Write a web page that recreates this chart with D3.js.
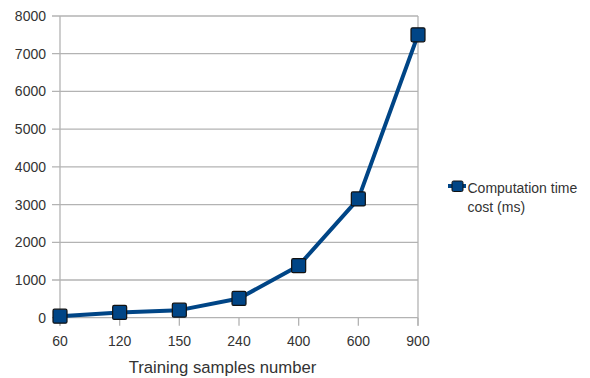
<!DOCTYPE html>
<html><head><meta charset="utf-8">
<script src="https://cdn.jsdelivr.net/npm/d3@7"></script>
<style>body{margin:0;background:#fff}svg{display:block}</style>
</head><body><svg id="c" width="590" height="378"></svg>
<script>
const categories = ["60","120","150","240","400","600","900"];
const values = [40, 140, 200, 510, 1380, 3150, 7500];
const yTicks = [0,1000,2000,3000,4000,5000,6000,7000,8000];
const seriesName = ["Computation time", "cost (ms)"];
const xTitle = "Training samples number";

const svg = d3.select("#c");
const L = 60, R = 418, T = 16, B = 317.7;
const font = "Liberation Sans, Arial, sans-serif";
const txt = "#333";
const x = d3.scalePoint().domain(categories).range([L, R]);
const y = d3.scaleLinear().domain([0, 8000]).range([B, T]);

// grid
svg.append("g").selectAll("line").data(yTicks).join("line")
  .attr("x1", L - 8).attr("x2", R).attr("y1", d => y(d)).attr("y2", d => y(d))
  .attr("stroke", "#b3b3b3").attr("stroke-width", 1.3);
// vertical frame lines
svg.append("line").attr("x1", L).attr("x2", L).attr("y1", T).attr("y2", B + 8).attr("stroke", "#b3b3b3").attr("stroke-width", 1.3);
svg.append("line").attr("x1", R).attr("x2", R).attr("y1", T).attr("y2", B + 8).attr("stroke", "#b3b3b3").attr("stroke-width", 1.3);
// x ticks
svg.append("g").selectAll("line").data(categories).join("line")
  .attr("x1", d => x(d)).attr("x2", d => x(d)).attr("y1", B).attr("y2", B + 8)
  .attr("stroke", "#b3b3b3").attr("stroke-width", 1.3);

// y labels
svg.append("g").selectAll("text").data(yTicks).join("text")
  .attr("x", 46).attr("y", d => y(d) + 5).attr("text-anchor", "end")
  .attr("font-family", font).attr("font-size", 14).attr("fill", txt).text(d => d);
// x labels
svg.append("g").selectAll("text").data(categories).join("text")
  .attr("x", d => x(d)).attr("y", 346).attr("text-anchor", "middle")
  .attr("font-family", font).attr("font-size", 14).attr("fill", txt).text(d => d);
svg.append("text").attr("x", 222.5).attr("y", 373).attr("text-anchor", "middle")
  .attr("font-family", font).attr("font-size", 16.7).attr("fill", txt).text(xTitle);

// line
const color = "#004586";
svg.append("path").datum(values.map((v, i) => [x(categories[i]), y(v)]))
  .attr("d", d3.line()).attr("fill", "none").attr("stroke", color)
  .attr("stroke-width", 4).attr("stroke-linejoin", "round");
svg.append("g").selectAll("rect").data(values).join("rect")
  .attr("x", (d, i) => x(categories[i]) - 7).attr("y", d => y(d) - 7)
  .attr("width", 14).attr("height", 14).attr("rx", 1.5)
  .attr("fill", color).attr("stroke", "#111").attr("stroke-width", 1.2);

// legend
const lg = svg.append("g");
lg.append("line").attr("x1", 448).attr("x2", 466).attr("y1", 186).attr("y2", 186)
  .attr("stroke", color).attr("stroke-width", 4);
lg.append("rect").attr("x", 452).attr("y", 181).attr("width", 11).attr("height", 10.5).attr("rx", 1.5)
  .attr("fill", color).attr("stroke", "#111").attr("stroke-width", 1);
lg.selectAll("text").data(seriesName).join("text")
  .attr("x", 467.5).attr("y", (d, i) => 192.5 + i * 19.4)
  .attr("font-family", font).attr("font-size", 14).attr("fill", txt).text(d => d);
</script></body></html>
